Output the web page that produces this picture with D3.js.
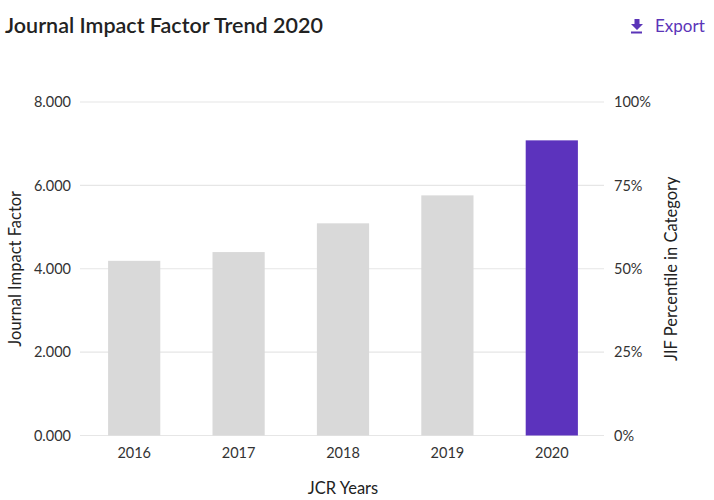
<!DOCTYPE html>
<html><head><meta charset="utf-8">
<script src="https://cdn.jsdelivr.net/npm/d3@7"></script>
<style>
body{margin:0;background:#fff;}
svg{display:block;font-family:Lato,"Open Sans",sans-serif;}
</style></head>
<body><svg id="c" width="714" height="500"></svg>
<script>
const years = ["2016","2017","2018","2019","2020"];
const jif = [4.19, 4.40, 5.09, 5.76, 7.08];
const leftTicks = [0,2,4,6,8];
const rightTicks = [0,25,50,75,100];
const highlightYear = "2020";

const svg = d3.select("#c");
const m = {left:82, right:604, top:102, bottom:435.5};

const x = d3.scaleBand().domain(years).range([m.left, m.right]).paddingInner(0.5).paddingOuter(0.25);
const y = d3.scaleLinear().domain([0,8]).range([m.bottom, m.top]);
const yr = d3.scaleLinear().domain([0,100]).range([m.bottom, m.top]);

// title
svg.append("text").attr("x",5).attr("y",33).attr("fill","#222")
  .attr("font-size",21.5).attr("font-weight",600).text("Journal Impact Factor Trend 2020");

// export
const ex = svg.append("g").attr("fill","#5b35b8");
ex.append("path").attr("d","M634.5,19 h5 v5 h3.5 l-6,6 l-6,-6 h3.5 z");
ex.append("rect").attr("x",631).attr("y",31.5).attr("width",11).attr("height",2);
ex.append("text").attr("x",655).attr("y",32).attr("font-size",17).text("Export");

// gridlines
svg.append("g").selectAll("line").data(leftTicks).join("line")
  .attr("x1",80).attr("x2",604).attr("y1",d=>y(d)).attr("y2",d=>y(d))
  .attr("stroke","#e6e6e6").attr("stroke-width",1.2);

// left axis
const la = svg.append("g").attr("transform","translate(71,0)")
  .call(d3.axisLeft(y).tickValues(leftTicks).tickFormat(d3.format(".3f")).tickSize(0).tickPadding(0));
la.select(".domain").remove();
la.selectAll("text").attr("font-size",14.5).attr("fill","#333").attr("font-family","Lato,'Open Sans',sans-serif");

// right axis
const ra = svg.append("g").attr("transform","translate(614,0)")
  .call(d3.axisRight(yr).tickValues(rightTicks).tickFormat(d=>d+"%").tickSize(0).tickPadding(0));
ra.select(".domain").remove();
ra.selectAll("text").attr("font-size",14.5).attr("fill","#333").attr("font-family","Lato,'Open Sans',sans-serif");

// bars
svg.append("g").selectAll("rect").data(years).join("rect")
  .attr("x",d=>x(d)).attr("width",x.bandwidth())
  .attr("y",(d,i)=>y(jif[i])).attr("height",(d,i)=>y(0)-y(jif[i]))
  .attr("fill",d=>d===highlightYear?"#5c33bd":"#d9d9d9");

// x axis
const xa = svg.append("g").attr("transform","translate(0,448)")
  .call(d3.axisBottom(x).tickSize(0).tickPadding(0));
xa.select(".domain").remove();
xa.selectAll("text").attr("font-size",14.5).attr("fill","#333").attr("font-family","Lato,'Open Sans',sans-serif");

// axis titles
svg.append("text").attr("x",(m.left+m.right)/2).attr("y",494).attr("text-anchor","middle")
  .attr("font-size",16.5).attr("fill","#222").text("JCR Years");
svg.append("text").attr("transform",`translate(21,${(m.top+m.bottom)/2}) rotate(-90)`)
  .attr("text-anchor","middle").attr("font-size",16.5).attr("fill","#222").text("Journal Impact Factor");
svg.append("text").attr("transform",`translate(677,${(m.top+m.bottom)/2}) rotate(-90)`)
  .attr("text-anchor","middle").attr("font-size",16.5).attr("fill","#222").text("JIF Percentile in Category");
</script></body></html>
